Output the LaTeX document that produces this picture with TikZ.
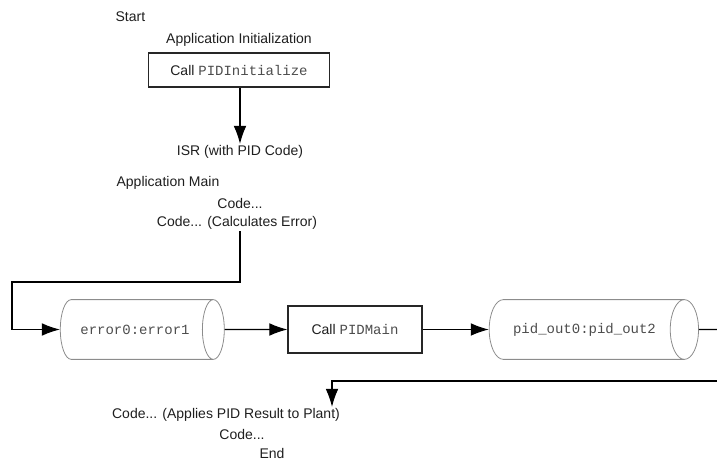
\documentclass[tikz,border=0pt]{standalone}
\usepackage{fontspec}
\setmainfont{Liberation Sans}
\setmonofont{Liberation Mono}
\definecolor{pidgray}{HTML}{8C8C8C}
\definecolor{pidtext}{HTML}{1E1E1E}
\usepackage{tikz}
\usetikzlibrary{shapes.geometric,arrows.meta,positioning,calc}

\begin{document}
\begin{tikzpicture}[x=0.75pt,y=-0.75pt,
  lbl/.style={inner sep=1pt, text=pidtext, font=\fontsize{10.5}{12}\selectfont},
  callbox/.style={draw=black!85, line width=0.9pt, lbl, minimum height=25.5pt},
  buffer/.style={cylinder, draw=pidgray, line width=0.6pt, aspect=1.8, lbl,
    minimum width=44.8pt},
  flow/.style={line width=0.8pt, -{Latex[length=13.5pt,width=9.5pt]}}]
\useasboundingbox (0,0) rectangle (717,466);

% initialization
\node[lbl, anchor=west] (start) at (114,17) {Start};
\node[lbl] (appinit) at (239,40) {Application Initialization};
\node[callbox, minimum width=136pt] (callinit) at (239,70)
  {Call \textcolor{black!70}{\texttt{PIDInitialize}}};
\node[lbl] (isr) at (240,152) {ISR (with PID Code)};
\draw[flow] (callinit.south -| isr) -- (isr.north);

% main loop
\node[lbl, anchor=west] (appmain) at (115,183) {Application Main};
\node[lbl] (code1) at (240,203) {Code...};
\node[lbl] (calc) at (237,223) {Code... (Calculates Error)};

\node[buffer, minimum height=123pt] (errbuf) at (135,329.5)
  {\textcolor{black!70}{\texttt{error0:error1}}};
\node[callbox, minimum width=100.5pt, minimum height=35.25pt] (callmain) at (355,329.5)
  {Call \textcolor{black!70}{\texttt{PIDMain}}};
\node[buffer, minimum height=157pt] (pidbuf) at (584.5,329.5)
  {\textcolor{black!70}{\texttt{pid\_out0:pid\_out2}}};

\coordinate (downA) at (240,282);
\coordinate (leftA) at (12,282);
\draw[flow] (calc.south -| downA) -- (downA) -- (leftA) |- (errbuf.west);
\draw[flow] (errbuf.east) -- (callmain.west);
\draw[flow] (callmain.east) -- (pidbuf.west);

% result back to the plant
\coordinate (edgeOut) at (717,329.5);
\coordinate (edgeIn) at (717,381);
\coordinate (backA) at (332,381);
\draw[line width=0.8pt] (pidbuf.east) -- (edgeOut);

\node[lbl] (apply) at (226,415) {Code... (Applies PID Result to Plant)};
\node[lbl] (code2) at (242,434) {Code...};
\node[lbl] (theend) at (272,453) {End};
\draw[flow] (edgeIn) -- (backA) -- (backA |- apply.north);

\end{tikzpicture}
\end{document}
